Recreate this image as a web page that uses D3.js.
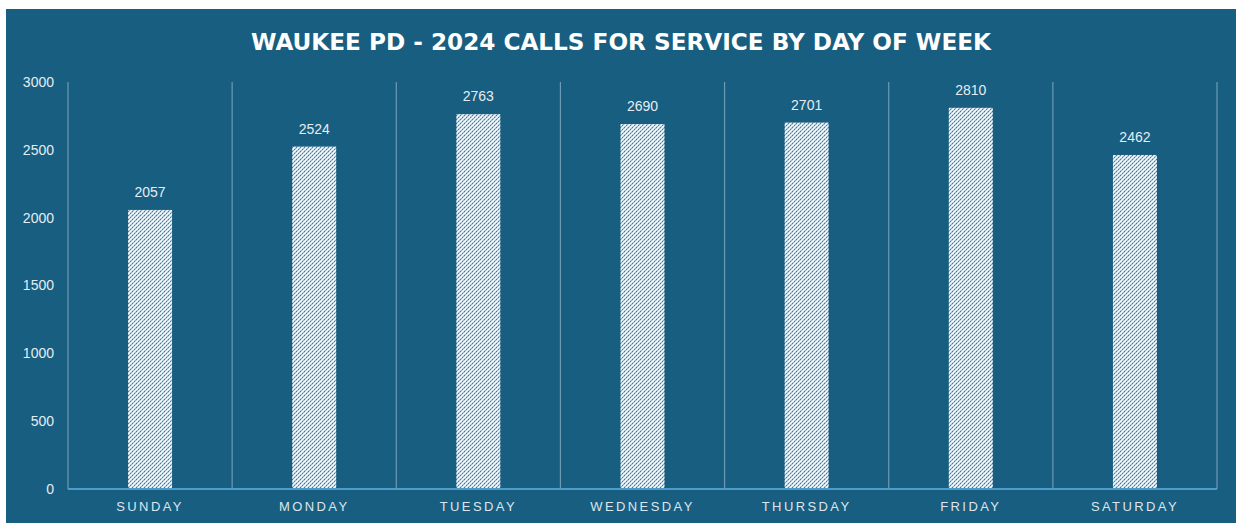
<!DOCTYPE html>
<html>
<head>
<meta charset="utf-8">
<script src="https://cdn.jsdelivr.net/npm/d3@7"></script>
<style>
  body { margin: 0; background: #ffffff; }
  svg { display: block; }
</style>
</head>
<body>
<script>
// Chart size
var width = 1236,
    height = 523;

// Data
const days = ['SUNDAY', 'MONDAY', 'TUESDAY', 'WEDNESDAY', 'THURSDAY', 'FRIDAY', 'SATURDAY'];
const calls = [2057, 2524, 2763, 2690, 2701, 2810, 2462];
const yTicks = [0, 500, 1000, 1500, 2000, 2500, 3000];
const titleText = 'WAUKEE PD - 2024 CALLS FOR SERVICE BY DAY OF WEEK';

// Plot area
const margin = { top: 82, right: 19, bottom: 34, left: 68 };
const bg = '#175e80';

var svg = d3.select('body').append('svg')
    .attr('width', width)
    .attr('height', height);

// hatch pattern for the bars
var defs = svg.append('defs');
var pat = defs.append('pattern')
    .attr('id', 'hatch')
    .attr('patternUnits', 'userSpaceOnUse')
    .attr('width', 4)
    .attr('height', 4);
pat.append('rect').attr('width', 4).attr('height', 4).attr('fill', '#ffffff');
pat.append('path')
    .attr('d', 'M-1,1 l2,-2 M0,4 l4,-4 M3,5 l2,-2')
    .attr('stroke', '#3a789c')
    .attr('stroke-width', 1.1)
    .attr('stroke-dasharray', '2.2,0.6');

// panel background
svg.append('rect')
    .attr('x', 6)
    .attr('y', 9)
    .attr('width', width - 6)
    .attr('height', height - 9)
    .attr('fill', bg);

// title
svg.append('text')
    .attr('x', 621)
    .attr('y', 50)
    .attr('text-anchor', 'middle')
    .attr('fill', '#ffffff')
    .attr('font-family', 'DejaVu Sans Condensed, DejaVu Sans, sans-serif')
    .attr('font-weight', 'bold')
    .attr('font-size', 23)
    .attr('textLength', 740)
    .attr('lengthAdjust', 'spacingAndGlyphs')
    .text(titleText);

var x = d3.scaleBand()
    .domain(days)
    .range([margin.left, width - margin.right])
    .paddingInner(0)
    .paddingOuter(0);

var y = d3.scaleLinear()
    .domain([0, 3000])
    .range([height - margin.bottom, margin.top]);

// vertical gridlines between categories
var bounds = days.map(function(d) { return x(d); }).concat([x.range()[1]]);
svg.append('g')
    .selectAll('line')
    .data(bounds)
    .enter()
    .append('line')
    .attr('x1', function(d) { return d; })
    .attr('x2', function(d) { return d; })
    .attr('y1', y(3000))
    .attr('y2', y(0))
    .attr('stroke', '#6d9ab4')
    .attr('stroke-width', 1.2);

// bars
const barWidth = 44;
svg.append('g')
    .selectAll('rect')
    .data(calls)
    .enter()
    .append('rect')
    .attr('x', function(d, i) { return x(days[i]) + x.bandwidth() / 2 - barWidth / 2; })
    .attr('y', function(d) { return y(d); })
    .attr('width', barWidth)
    .attr('height', function(d) { return y(0) - y(d); })
    .attr('fill', 'url(#hatch)');

// value labels
svg.append('g')
    .selectAll('text')
    .data(calls)
    .enter()
    .append('text')
    .attr('x', function(d, i) { return x(days[i]) + x.bandwidth() / 2; })
    .attr('y', function(d) { return y(d) - 13; })
    .attr('text-anchor', 'middle')
    .attr('fill', '#e6edf2')
    .attr('font-family', 'Liberation Sans, Arial, sans-serif')
    .attr('font-size', 14)
    .text(function(d) { return d; });

// y axis
var yAxis = svg.append('g')
    .attr('transform', 'translate(' + (margin.left - 14) + ',0)')
    .call(d3.axisLeft(y).tickValues(yTicks).tickFormat(d3.format('d')).tickSize(0).tickPadding(0));
yAxis.select('.domain').remove();
yAxis.selectAll('text')
    .attr('fill', '#e6edf2')
    .attr('font-family', 'Liberation Sans, Arial, sans-serif')
    .attr('font-size', 14);

// baseline
svg.append('line')
    .attr('x1', margin.left)
    .attr('x2', width - margin.right)
    .attr('y1', y(0))
    .attr('y2', y(0))
    .attr('stroke', '#4f9ccc')
    .attr('stroke-width', 2);

// x axis labels
var xAxis = svg.append('g')
    .attr('transform', 'translate(0,' + y(0) + ')')
    .call(d3.axisBottom(x).tickSize(0).tickPadding(13));
xAxis.select('.domain').remove();
xAxis.selectAll('text')
    .attr('fill', '#dde6ee')
    .attr('font-family', 'Liberation Sans, Arial, sans-serif')
    .attr('font-size', 13)
    .attr('letter-spacing', '2.4px');
</script>
</body>
</html>
